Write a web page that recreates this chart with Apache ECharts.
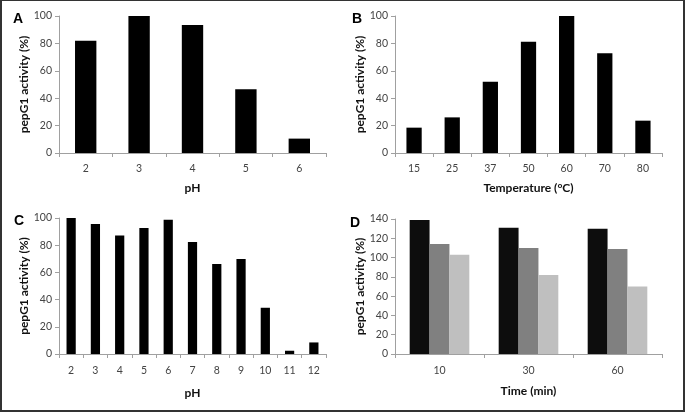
<!DOCTYPE html>
<html><head><meta charset="utf-8">
<style>html,body{margin:0;padding:0;background:#fff}#c{width:685px;height:412px;box-sizing:border-box;border-top:1px solid #333;border-left:2px solid #333;border-right:2px solid #333;border-bottom:2px solid #333}</style>
<script src="https://cdn.jsdelivr.net/npm/echarts@6/dist/echarts.min.js"></script>
</head><body><div id="c"></div>
<script>
const catsA = ['2','3','4','5','6'];
const valsA = [82, 100, 93.5, 46.5, 10.5];
const catsB = ['15','25','37','50','60','70','80'];
const valsB = [18.5, 26, 52, 81.2, 100, 72.8, 23.6];
const catsC = ['2','3','4','5','6','7','8','9','10','11','12'];
const valsC = [100, 95.6, 87.2, 92.6, 98.8, 82.4, 66.2, 69.9, 34, 2.4, 8.5];
const catsD = ['10','30','60'];
const valsD1 = [139, 131, 130];
const valsD2 = [114, 110, 109];
const valsD3 = [103, 82, 70];
const yTicksABC = {min:0, max:100, interval:20};
const yTicksD = {min:0, max:140, interval:20};

const FONT = 'Lato';
const chart = echarts.init(document.getElementById('c'));
const grids = [
  {left:57, top:15, width:267, height:137},
  {left:393, top:15, width:267, height:137},
  {left:57, top:217, width:267, height:136},
  {left:393, top:218, width:267, height:135}
];
function xAxis(i, cats, name, gap, margin){
  return {type:'category', gridIndex:i, data:cats, name:name, nameLocation:'middle', nameGap:gap,
    nameTextStyle:{fontFamily:FONT, fontWeight:'bold', fontSize:12, color:'#111'},
    axisLine:{lineStyle:{color:'#a0a0a0'}}, axisTick:{show:true, length:4, lineStyle:{color:'#a0a0a0'}},
    axisLabel:{fontFamily:FONT, fontSize:10.5, color:'#444', margin:margin}};
}
function yAxis(i, t){
  return {type:'value', gridIndex:i, min:t.min, max:t.max, interval:t.interval,
    name:'pepG1 activity (%)', nameLocation:'middle', nameGap:25,
    nameTextStyle:{fontFamily:FONT, fontWeight:'bold', fontSize:12, color:'#111'},
    splitLine:{show:false},
    axisLine:{show:true, lineStyle:{color:'#a0a0a0'}}, axisTick:{show:true, length:4, lineStyle:{color:'#a0a0a0'}},
    axisLabel:{fontFamily:FONT, fontSize:10.5, color:'#444', margin:7}};
}
function letter(t, x, y){
  return {type:'text', left:x, top:y, style:{text:t, font:'bold 14px "Liberation Sans"', fill:'#000'}};
}
chart.setOption({
  animation:false,
  grid: grids,
  xAxis:[xAxis(0,catsA,'pH',29,10), xAxis(1,catsB,'Temperature (°C)',29,10), xAxis(2,catsC,'pH',33,11), xAxis(3,catsD,'Time (min)',31,11)],
  yAxis:[yAxis(0,yTicksABC), yAxis(1,yTicksABC), yAxis(2,yTicksABC), yAxis(3,yTicksD)],
  series:[
    {type:'bar', xAxisIndex:0, yAxisIndex:0, data:valsA, barWidth:'40%', itemStyle:{color:'#000'}},
    {type:'bar', xAxisIndex:1, yAxisIndex:1, data:valsB, barWidth:'40%', itemStyle:{color:'#000'}},
    {type:'bar', xAxisIndex:2, yAxisIndex:2, data:valsC, barWidth:'38%', itemStyle:{color:'#000'}},
    {type:'bar', xAxisIndex:3, yAxisIndex:3, data:valsD1, barGap:'0%', barCategoryGap:'33%', itemStyle:{color:'#0d0d0d'}},
    {type:'bar', xAxisIndex:3, yAxisIndex:3, data:valsD2, barGap:'0%', barCategoryGap:'33%', itemStyle:{color:'#808080'}},
    {type:'bar', xAxisIndex:3, yAxisIndex:3, data:valsD3, barGap:'0%', barCategoryGap:'33%', itemStyle:{color:'#bfbfbf'}}
  ],
  graphic:[letter('A',11,11), letter('B',350,11), letter('C',12,213), letter('D',348,215)]
});
</script></body></html>
